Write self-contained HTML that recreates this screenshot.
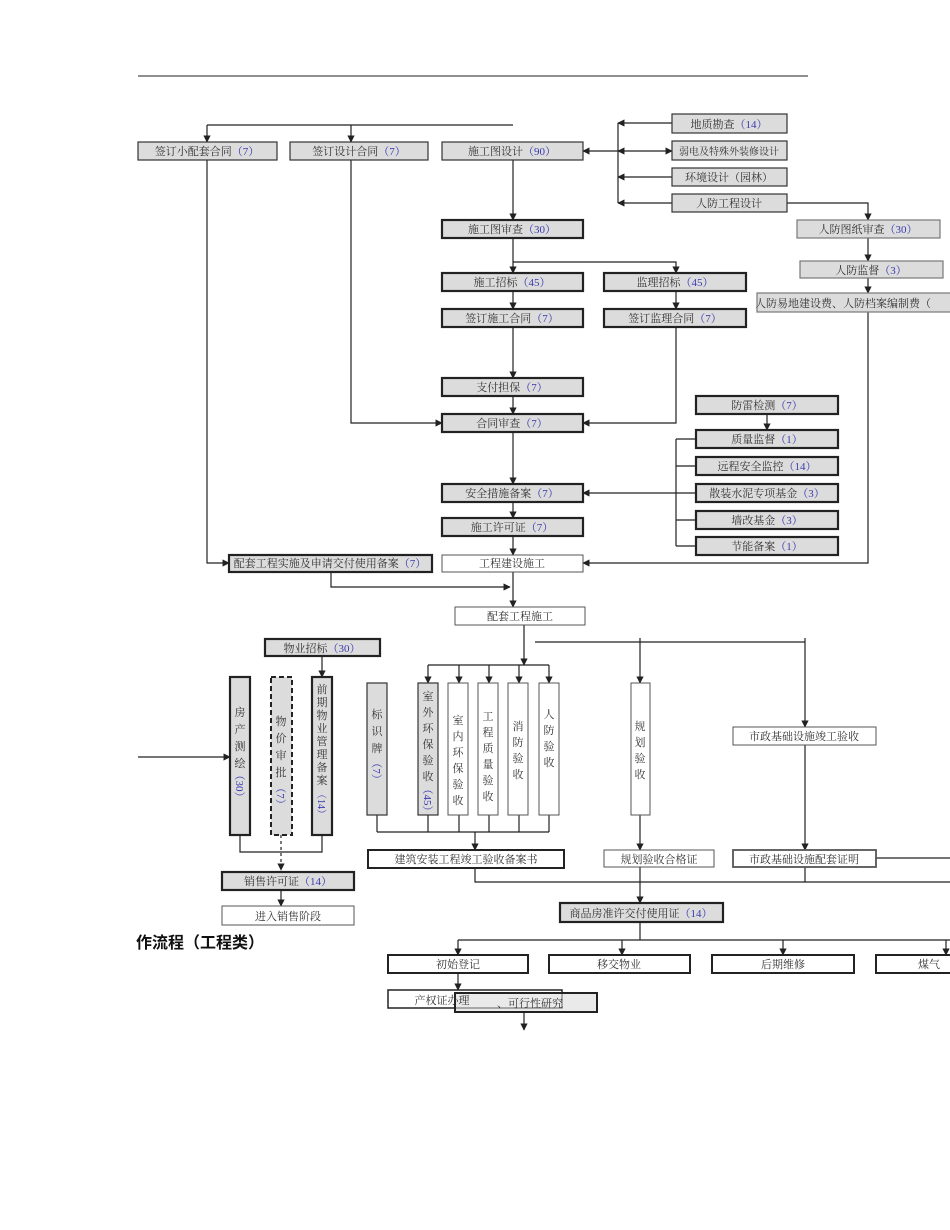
<!DOCTYPE html>
<html><head><meta charset="utf-8"><style>
html,body{margin:0;padding:0;background:#fff;}
svg{display:block;}
text{font-family:"Liberation Serif","Noto Serif CJK SC","Noto Sans CJK SC",serif;font-size:11px;fill:#333;}
.b{fill:#3a3ab0;}
</style></head><body>
<svg width="950" height="1230" viewBox="0 0 950 1230" xmlns="http://www.w3.org/2000/svg">
<defs>
<marker id="a" viewBox="0 0 10 10" refX="9" refY="5" markerWidth="6" markerHeight="6" orient="auto-start-reverse"><path d="M0,0 L10,5 L0,10 z" fill="#222"/></marker>
</defs>
<g stroke="#222" stroke-width="1.2" fill="none">
<line x1="138" y1="76" x2="808" y2="76" stroke-width="1"/>
<line x1="207" y1="125" x2="513" y2="125"/>
<line x1="207" y1="125" x2="207" y2="142" marker-end="url(#a)"/>
<line x1="351" y1="125" x2="351" y2="142" marker-end="url(#a)"/>
<line x1="583" y1="151" x2="618" y2="151" marker-start="url(#a)"/>
<line x1="618" y1="151" x2="672" y2="151" marker-start="url(#a)" marker-end="url(#a)"/>
<line x1="618" y1="123" x2="618" y2="203"/>
<line x1="672" y1="123" x2="618" y2="123" marker-end="url(#a)"/>
<line x1="672" y1="177" x2="618" y2="177" marker-end="url(#a)"/>
<line x1="672" y1="203" x2="618" y2="203" marker-end="url(#a)"/>
<polyline points="787,203 868,203 868,220" marker-end="url(#a)"/>
<line x1="868" y1="238" x2="868" y2="261" marker-end="url(#a)"/>
<line x1="868" y1="278" x2="868" y2="293" marker-end="url(#a)"/>
<polyline points="868,312 868,563 583,563" marker-end="url(#a)"/>
<line x1="513" y1="160" x2="513" y2="220" marker-end="url(#a)"/>
<line x1="513" y1="238" x2="513" y2="273" marker-end="url(#a)"/>
<polyline points="513,262 676,262 676,273" marker-end="url(#a)"/>
<line x1="513" y1="291" x2="513" y2="309" marker-end="url(#a)"/>
<line x1="676" y1="291" x2="676" y2="309" marker-end="url(#a)"/>
<line x1="513" y1="327" x2="513" y2="378" marker-end="url(#a)"/>
<line x1="513" y1="396" x2="513" y2="414" marker-end="url(#a)"/>
<polyline points="351,160 351,423 442,423" marker-end="url(#a)"/>
<polyline points="676,327 676,423 583,423" marker-end="url(#a)"/>
<line x1="513" y1="432" x2="513" y2="484" marker-end="url(#a)"/>
<line x1="513" y1="502" x2="513" y2="518" marker-end="url(#a)"/>
<line x1="513" y1="536" x2="513" y2="555" marker-end="url(#a)"/>
<line x1="767" y1="414" x2="767" y2="430" marker-end="url(#a)"/>
<line x1="676" y1="439" x2="676" y2="546"/>
<line x1="676" y1="439" x2="696" y2="439"/>
<line x1="676" y1="466" x2="696" y2="466"/>
<line x1="676" y1="520" x2="696" y2="520"/>
<line x1="676" y1="546" x2="696" y2="546"/>
<line x1="696" y1="493" x2="583" y2="493" marker-end="url(#a)"/>
<polyline points="207,160 207,563 229,563" marker-end="url(#a)"/>
<polyline points="331,572 331,587 510,587" marker-end="url(#a)"/>
<line x1="513" y1="572" x2="513" y2="607" marker-end="url(#a)"/>
<line x1="524" y1="625" x2="524" y2="665" marker-end="url(#a)"/>
<line x1="428" y1="665" x2="549" y2="665"/>
<line x1="428" y1="665" x2="428" y2="683" marker-end="url(#a)"/>
<line x1="459" y1="665" x2="459" y2="683" marker-end="url(#a)"/>
<line x1="489" y1="665" x2="489" y2="683" marker-end="url(#a)"/>
<line x1="519" y1="665" x2="519" y2="683" marker-end="url(#a)"/>
<line x1="549" y1="665" x2="549" y2="683" marker-end="url(#a)"/>
<line x1="535" y1="642" x2="805" y2="642"/>
<line x1="640" y1="638" x2="640" y2="683" marker-end="url(#a)"/>
<line x1="805" y1="638" x2="805" y2="727" marker-end="url(#a)"/>
<line x1="322" y1="656" x2="322" y2="677" marker-end="url(#a)"/>
<line x1="138" y1="757" x2="230" y2="757" marker-end="url(#a)"/>
<line x1="377" y1="815" x2="377" y2="832"/>
<line x1="428" y1="815" x2="428" y2="832"/>
<line x1="459" y1="815" x2="459" y2="832"/>
<line x1="489" y1="815" x2="489" y2="832"/>
<line x1="519" y1="815" x2="519" y2="832"/>
<line x1="549" y1="815" x2="549" y2="832"/>
<line x1="377" y1="832" x2="549" y2="832"/>
<line x1="475" y1="832" x2="475" y2="850" marker-end="url(#a)"/>
<line x1="640" y1="815" x2="640" y2="850" marker-end="url(#a)"/>
<line x1="805" y1="745" x2="805" y2="850" marker-end="url(#a)"/>
<line x1="876" y1="858" x2="950" y2="858"/>
<polyline points="240,835 240,852 322,852 322,835"/>
<line x1="281" y1="835" x2="281" y2="870" stroke-dasharray="3,3" marker-end="url(#a)"/>
<line x1="281" y1="890" x2="281" y2="906" marker-end="url(#a)"/>
<polyline points="475,868 475,882 950,882"/>
<line x1="805" y1="867" x2="805" y2="882"/>
<line x1="640" y1="867" x2="640" y2="903" marker-end="url(#a)"/>
<line x1="640" y1="922" x2="640" y2="940"/>
<line x1="458" y1="940" x2="950" y2="940"/>
<line x1="458" y1="940" x2="458" y2="955" marker-end="url(#a)"/>
<line x1="622" y1="940" x2="622" y2="955" marker-end="url(#a)"/>
<line x1="783" y1="940" x2="783" y2="955" marker-end="url(#a)"/>
<line x1="946" y1="940" x2="946" y2="955" marker-end="url(#a)"/>
<line x1="458" y1="973" x2="458" y2="990" marker-end="url(#a)"/>
<line x1="524" y1="1012" x2="524" y2="1030" marker-end="url(#a)"/>
</g>

<g fill="#dcdcdc" stroke="#333" stroke-width="1.2">
<rect x="138" y="142" width="139" height="18"/>
<rect x="290" y="142" width="138" height="18"/>
<rect x="442" y="142" width="141" height="18"/>
<rect x="672" y="114" width="115" height="19"/>
<rect x="672" y="141" width="115" height="19"/>
<rect x="672" y="168" width="115" height="18"/>
<rect x="672" y="194" width="115" height="18"/>
<rect x="797" y="220" width="143" height="18" stroke="#777"/>
<rect x="800" y="261" width="143" height="17" stroke="#777"/>
<rect x="757" y="293" width="200" height="19" stroke="#777"/>
<rect x="367" y="683" width="20" height="132"/>
<rect x="418" y="683" width="20" height="132"/>
</g>
<g fill="#dcdcdc" stroke="#222" stroke-width="2.2">
<rect x="442" y="220" width="141" height="18"/>
<rect x="442" y="273" width="141" height="18"/>
<rect x="604" y="273" width="142" height="18"/>
<rect x="442" y="309" width="141" height="18"/>
<rect x="604" y="309" width="142" height="18"/>
<rect x="442" y="378" width="141" height="18"/>
<rect x="442" y="414" width="141" height="18"/>
<rect x="696" y="396" width="142" height="18"/>
<rect x="696" y="430" width="142" height="18"/>
<rect x="696" y="457" width="142" height="18"/>
<rect x="696" y="484" width="142" height="18"/>
<rect x="696" y="511" width="142" height="18"/>
<rect x="696" y="537" width="142" height="18"/>
<rect x="442" y="484" width="141" height="18"/>
<rect x="442" y="518" width="141" height="18"/>
<rect x="229" y="555" width="203" height="17"/>
<rect x="265" y="639" width="115" height="17"/>
<rect x="230" y="677" width="20" height="158"/>
<rect x="312" y="677" width="20" height="158"/>
<rect x="222" y="872" width="132" height="18"/>
<rect x="560" y="903" width="163" height="19"/>
</g>
<rect x="271" y="677" width="21" height="158" fill="#dcdcdc" stroke="#222" stroke-width="2" stroke-dasharray="5,3"/>
<g fill="#fff" stroke="#555" stroke-width="1">
<rect x="442" y="555" width="141" height="17"/>
<rect x="455" y="607" width="130" height="18"/>
<rect x="448" y="683" width="20" height="132"/>
<rect x="478" y="683" width="20" height="132"/>
<rect x="508" y="683" width="20" height="132"/>
<rect x="539" y="683" width="20" height="132"/>
<rect x="631" y="683" width="19" height="132"/>
<rect x="733" y="727" width="143" height="18"/>
<rect x="604" y="850" width="110" height="17"/>
<rect x="733" y="850" width="143" height="17" stroke-width="1.8"/>
<rect x="222" y="906" width="132" height="19"/>
</g>
<g fill="#fff" stroke="#222" stroke-width="2">
<rect x="368" y="850" width="196" height="18"/>
<rect x="388" y="955" width="140" height="18"/>
<rect x="549" y="955" width="141" height="18"/>
<rect x="712" y="955" width="142" height="18"/>
<rect x="876" y="955" width="80" height="18"/>
<rect x="388" y="990" width="174" height="18" stroke-width="1.5"/>
<rect x="455" y="993" width="142" height="19" fill="#dcdcdc" fill-opacity="0.6"/>
</g>

<g text-anchor="middle">
<text x="207" y="155">签订小配套合同<tspan class="b">（7）</tspan></text>
<text x="359" y="155">签订设计合同<tspan class="b">（7）</tspan></text>
<text x="512" y="155">施工图设计<tspan class="b">（90）</tspan></text>
<text x="729" y="128">地质勘查<tspan class="b">（14）</tspan></text>
<text x="729" y="155" style="font-size:10px">弱电及特殊外装修设计</text>
<text x="729" y="181">环境设计（园林）</text>
<text x="729" y="207">人防工程设计</text>
<text x="868" y="233">人防图纸审查<tspan class="b">（30）</tspan></text>
<text x="871" y="274">人防监督<tspan class="b">（3）</tspan></text>
<text x="512" y="233">施工图审查<tspan class="b">（30）</tspan></text>
<text x="512" y="286">施工招标<tspan class="b">（45）</tspan></text>
<text x="675" y="286">监理招标<tspan class="b">（45）</tspan></text>
<text x="512" y="322">签订施工合同<tspan class="b">（7）</tspan></text>
<text x="675" y="322">签订监理合同<tspan class="b">（7）</tspan></text>
<text x="512" y="391">支付担保<tspan class="b">（7）</tspan></text>
<text x="512" y="427">合同审查<tspan class="b">（7）</tspan></text>
<text x="767" y="409">防雷检测<tspan class="b">（7）</tspan></text>
<text x="767" y="443">质量监督<tspan class="b">（1）</tspan></text>
<text x="767" y="470">远程安全监控<tspan class="b">（14）</tspan></text>
<text x="767" y="497">散装水泥专项基金<tspan class="b">（3）</tspan></text>
<text x="767" y="524">墙改基金<tspan class="b">（3）</tspan></text>
<text x="767" y="550">节能备案<tspan class="b">（1）</tspan></text>
<text x="512" y="497">安全措施备案<tspan class="b">（7）</tspan></text>
<text x="512" y="531">施工许可证<tspan class="b">（7）</tspan></text>
<text x="330" y="567">配套工程实施及申请交付使用备案<tspan class="b">（7）</tspan></text>
<text x="512" y="567">工程建设施工</text>
<text x="520" y="620">配套工程施工</text>
<text x="322" y="652">物业招标<tspan class="b">（30）</tspan></text>
<text x="804" y="740">市政基础设施竣工验收</text>
<text x="466" y="863">建筑安装工程竣工验收备案书</text>
<text x="659" y="863">规划验收合格证</text>
<text x="804" y="863">市政基础设施配套证明</text>
<text x="288" y="885">销售许可证<tspan class="b">（14）</tspan></text>
<text x="288" y="920">进入销售阶段</text>
<text x="641" y="917">商品房准许交付使用证<tspan class="b">（14）</tspan></text>
<text x="458" y="968">初始登记</text>
<text x="619" y="968">移交物业</text>
<text x="783" y="968">后期维修</text>
<text x="442" y="1004">产权证办理</text>
<text x="530" y="1007">、可行性研究</text>
</g>
<text x="918" y="968">煤气</text>
<text x="755" y="307">人防易地建设费、人防档案编制费（</text>
<text x="136" y="948" style="font-size:16px;font-weight:bold;fill:#111;font-family:'Liberation Sans','Noto Sans CJK SC',sans-serif">作流程（工程类）</text>

<g text-anchor="middle" style="font-size:12px">
<text x="240" y="716">房</text><text x="240" y="733">产</text><text x="240" y="750">测</text><text x="240" y="767">绘</text>
<text x="240" y="790" class="b" transform="rotate(90 240 786)">（30）</text>
<text x="281" y="725">物</text><text x="281" y="742">价</text><text x="281" y="759">审</text><text x="281" y="776">批</text>
<text x="281" y="800" class="b" transform="rotate(90 281 796)">（7）</text>
<g style="font-size:11px">
<text x="322" y="693">前</text><text x="322" y="706">期</text><text x="322" y="719">物</text><text x="322" y="732">业</text><text x="322" y="745">管</text><text x="322" y="758">理</text><text x="322" y="771">备</text><text x="322" y="784">案</text>
</g>
<text x="322" y="808" class="b" transform="rotate(90 322 804)" style="font-size:10px">（14）</text>
<text x="377" y="718">标</text><text x="377" y="735">识</text><text x="377" y="752">牌</text>
<text x="377" y="775" class="b" transform="rotate(90 377 771)">（7）</text>
<text x="428" y="700">室</text><text x="428" y="716">外</text><text x="428" y="732">环</text><text x="428" y="748">保</text><text x="428" y="764">验</text><text x="428" y="780">收</text>
<text x="428" y="804" class="b" transform="rotate(90 428 800)">（45）</text>
<text x="458" y="724">室</text><text x="458" y="740">内</text><text x="458" y="756">环</text><text x="458" y="772">保</text><text x="458" y="788">验</text><text x="458" y="804">收</text>
<text x="488" y="720">工</text><text x="488" y="736">程</text><text x="488" y="752">质</text><text x="488" y="768">量</text><text x="488" y="784">验</text><text x="488" y="800">收</text>
<text x="518" y="730">消</text><text x="518" y="746">防</text><text x="518" y="762">验</text><text x="518" y="778">收</text>
<text x="549" y="718">人</text><text x="549" y="734">防</text><text x="549" y="750">验</text><text x="549" y="766">收</text>
<text x="640" y="730">规</text><text x="640" y="746">划</text><text x="640" y="762">验</text><text x="640" y="778">收</text>
</g>
</svg>
</body></html>
